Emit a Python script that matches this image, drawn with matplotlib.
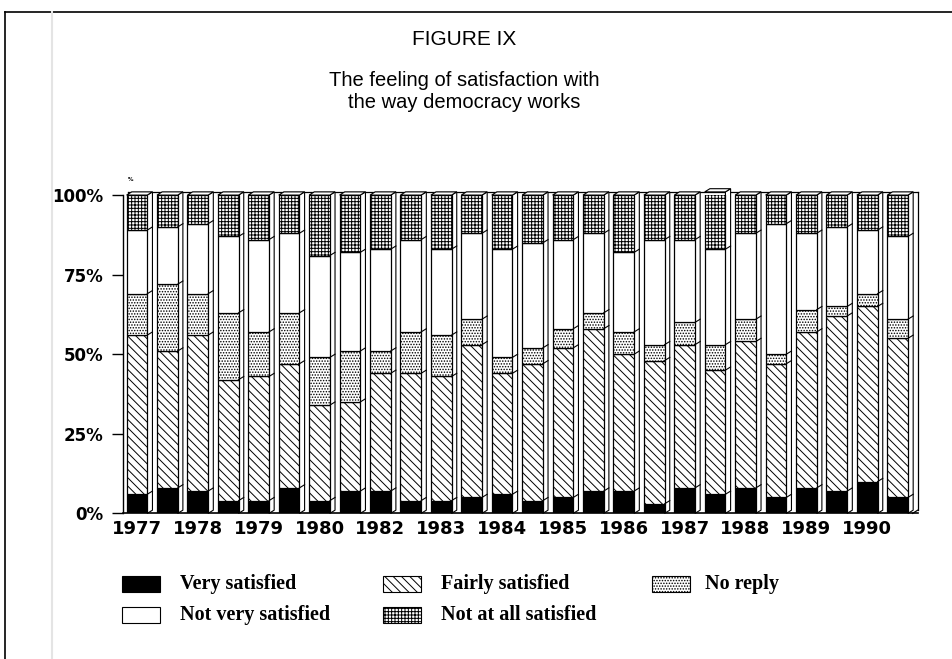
import numpy as np
import matplotlib.pyplot as plt
from matplotlib.patches import Polygon, Rectangle
from matplotlib.lines import Line2D

plt.rcParams['hatch.linewidth'] = 0.7
plt.rcParams['hatch.color'] = 'black'

# two surveys per year (spring / autumn); only every other bar is labelled
year_labels = ["1977", "1978", "1979", "1980", "1982", "1983", "1984",
               "1985", "1986", "1987", "1988", "1989", "1990"]

series = ["Very satisfied", "Fairly satisfied", "No reply",
          "Not very satisfied", "Not at all satisfied"]

very_sat = [6, 8, 7, 4, 4, 8, 4, 7, 7, 4, 4, 5, 6,
            4, 5, 7, 7, 3, 8, 6, 8, 5, 8, 7, 10, 5]
fairly_sat = [50, 43, 49, 38, 39, 39, 30, 28, 37, 40, 39, 48, 38,
              43, 47, 51, 43, 45, 45, 39, 46, 42, 49, 55, 55, 50]
no_reply = [13, 21, 13, 21, 14, 16, 15, 16, 7, 13, 13, 8, 5,
            5, 6, 5, 7, 5, 7, 8, 7, 3, 7, 3, 4, 6]
not_very = [20, 18, 22, 24, 29, 25, 32, 31, 32, 29, 27, 27, 34,
            33, 28, 25, 25, 33, 26, 30, 27, 41, 24, 25, 20, 26]
not_at_all = [11, 10, 9, 13, 14, 12, 19, 18, 17, 14, 17, 12, 17,
              15, 14, 12, 18, 14, 14, 18, 12, 9, 12, 10, 11, 13]

values = [very_sat, fairly_sat, no_reply, not_very, not_at_all]
faces = ['black', 'white', 'white', 'white', 'white']
hatches = [None, '\\\\\\\\', '......', None, '+++++']

fig = plt.figure(figsize=(9.53, 6.59), dpi=100)
ax = fig.add_axes([0.129, 0.221, 0.834, 0.483])

n = len(very_sat)
x = np.arange(n)
w = 0.68
dx, dy = 0.17, 1.0

bottom = np.zeros(n)
for vals, fc, h in zip(values, faces, hatches):
    vals = np.array(vals, dtype=float)
    ax.bar(x, vals, w, bottom=bottom, color=fc, edgecolor='black',
           hatch=h, linewidth=0.9, zorder=3)
    bottom += vals

# 3d side and top faces of every bar
for i in range(n):
    xr = x[i] + w / 2
    xl = x[i] - w / 2
    top = bottom[i]
    ax.add_patch(Polygon([(xr, 0), (xr + dx, dy), (xr + dx, top + dy), (xr, top)],
                         closed=True, facecolor='white', edgecolor='black',
                         linewidth=0.8, zorder=2, clip_on=False))
    ax.add_patch(Polygon([(xl, top), (xl + dx, top + dy), (xr + dx, top + dy), (xr, top)],
                         closed=True, facecolor='white', edgecolor='black',
                         linewidth=0.8, zorder=2, clip_on=False))
    cum = 0
    for vals in values[:-1]:
        cum += vals[i]
        ax.plot([xr, xr + dx], [cum, cum + dy], color='black', lw=0.8,
                zorder=4, clip_on=False)

xmin, xmax = -0.46, n - 0.34
ax.set_xlim(xmin, xmax)
ax.set_ylim(0, 100)

# back wall outline
ax.plot([xmin + dx, xmax], [100 + dy, 100 + dy], color='black', lw=0.9, clip_on=False, zorder=1)
ax.plot([xmax, xmax], [dy, 100 + dy], color='black', lw=0.9, clip_on=False, zorder=1)
ax.plot([xmin + dx, xmin + dx], [dy, 100 + dy], color='black', lw=0.8, clip_on=False, zorder=1)
ax.plot([xmax - dx, xmax], [0, dy], color='black', lw=0.9, clip_on=False, zorder=1)

for s in ['top', 'right']:
    ax.spines[s].set_visible(False)
ax.spines['left'].set_linewidth(1.0)
ax.spines['bottom'].set_linewidth(1.2)

ax.set_yticks([0, 25, 50, 75, 100])
ax.set_yticklabels(['0%', '25%', '50%', '75%', '100%'],
                   fontsize=12, fontweight='bold')
ax.tick_params(axis='y', length=8, width=1, pad=6)
ax.set_xticks(x[::2])
ax.set_xticklabels(year_labels, fontsize=13, fontweight='bold')
ax.tick_params(axis='x', length=0, pad=5)

fig.text(0.487, 0.940, "FIGURE IX", ha='center', va='center',
         fontsize=15, family='Liberation Sans')
fig.text(0.487, 0.861, "The feeling of satisfaction with\nthe way democracy works",
         ha='center', va='center', fontsize=14.5, family='Liberation Sans',
         linespacing=1.25)
fig.text(0.137, 0.728, "%", ha='center', va='center', fontsize=4, fontweight='bold')

# legend laid out like the original (two rows, three columns)
order = [0, 3, 1, 4, 2]
rows = [0.114, 0.067]
slots = [(0.128, rows[0]), (0.128, rows[1]), (0.402, rows[0]), (0.402, rows[1]), (0.684, rows[0])]
text_x = {0: 0.189, 3: 0.189, 1: 0.463, 4: 0.463, 2: 0.740}
for k, (xs, ys) in zip(order, slots):
    bw, bh = 0.040, 0.024
    fig.patches.append(Rectangle((xs, ys - bh / 2), bw, bh, transform=fig.transFigure,
                                 facecolor=faces[k], edgecolor='black', hatch=hatches[k],
                                 linewidth=0.8))
    fig.text(text_x[k], ys, series[k], ha='left', va='center',
             fontsize=14.5, fontweight='bold', family='Liberation Serif')

# page frame of the scanned document
fig.add_artist(Line2D([0.005, 1.0], [0.982, 0.982], color='black', lw=1.2))
fig.add_artist(Line2D([0.005, 0.005], [0.0, 0.982], color='black', lw=1.2))
fig.add_artist(Line2D([0.055, 0.055], [0.0, 0.982], color='#e4e4e4', lw=1.5))

fig.savefig('out.png', dpi=100)
